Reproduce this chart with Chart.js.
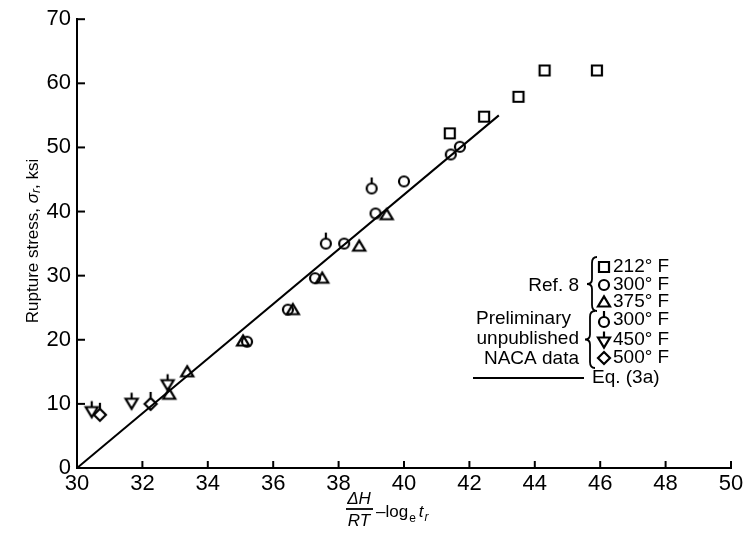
<!DOCTYPE html>
<html><head><meta charset="utf-8">
<script src="https://cdn.jsdelivr.net/npm/chart.js@4/dist/chart.umd.min.js"></script>
<style>html,body{margin:0;padding:0;background:#fff}#c{display:block}</style>
</head><body>
<div style="width:751px;height:534px"><canvas id="c" width="751" height="534"></canvas></div>
<script>
// ---- data ----
const xTicks = [30,32,34,36,38,40,42,44,46,48,50];
const yTicks = [0,10,20,30,40,50,60,70];

const ref8_212F_x = [41.4, 42.45, 43.5, 44.3, 45.9];
const ref8_212F_y = [52.2, 54.8, 57.9, 62.0, 62.0];

const ref8_300F_x = [35.2, 36.45, 37.28, 38.17, 39.13, 40.0, 41.43, 41.71];
const ref8_300F_y = [19.7, 24.7, 29.6, 35.0, 39.7, 44.7, 48.9, 50.1];

const ref8_375F_x = [32.82, 33.37, 35.08, 36.6, 37.5, 38.63, 39.47];
const ref8_375F_y = [11.5, 15.0, 19.8, 24.7, 29.6, 34.6, 39.5];

const naca_300F_x = [37.61, 39.01];
const naca_300F_y = [35.0, 43.6];

const naca_450F_x = [30.45, 31.67, 32.77];
const naca_450F_y = [8.8, 10.1, 13.0];

const naca_500F_x = [30.7, 32.25];
const naca_500F_y = [8.3, 10.0];

const eq3a_x = [30.0, 42.9];
const eq3a_y = [0.0, 55.0];

const legendTemps = ['212° F','300° F','375° F','300° F','450° F','500° F'];

// ---- helpers ----
const FONT = '"Liberation Sans", Arial, sans-serif';
const pts = (xs, ys) => xs.map((v,i)=>({x:v, y:ys[i]}));

function drawSym(g, kind, cx, cy, pip){
  g.save();
  g.strokeStyle='#000'; g.lineWidth=2.2; g.lineJoin='miter';
  g.beginPath();
  let top = cy-5;
  if(kind==='square'){ g.rect(cx-5,cy-5,10,10); top=cy-5; }
  else if(kind==='circle'){ g.arc(cx,cy,5,0,Math.PI*2); top=cy-5; }
  else if(kind==='tri'){ g.moveTo(cx-6,cy+4.5); g.lineTo(cx+6,cy+4.5); g.lineTo(cx,cy-5.5); g.closePath(); top=cy-5.5; }
  else if(kind==='tridown'){ g.moveTo(cx-6,cy-4.5); g.lineTo(cx+6,cy-4.5); g.lineTo(cx,cy+5.5); g.closePath(); top=cy-4.5; }
  else if(kind==='diamond'){ g.moveTo(cx,cy-6); g.lineTo(cx+6,cy); g.lineTo(cx,cy+6); g.lineTo(cx-6,cy); g.closePath(); top=cy-6; }
  g.stroke();
  if(pip){ g.beginPath(); g.moveTo(cx,top); g.lineTo(cx,top-6); g.stroke(); }
  g.restore();
}
function symCanvas(kind, pip){
  const c=document.createElement('canvas'); c.width=32; c.height=32;
  drawSym(c.getContext('2d'), kind, 16, 16, pip);
  return c;
}

function ds(label, xs, ys, kind, pip){
  return {type:'scatter', label, data: pts(xs,ys), pointStyle: symCanvas(kind,pip),
    pointRadius:6, pointHoverRadius:6, showLine:false};
}

const insideTicks = {
  id:'insideTicks',
  beforeDraw(chart){
    const g=chart.ctx; g.save(); g.fillStyle='#fff'; g.fillRect(0,0,chart.width,chart.height); g.restore();
  },
  afterDraw(chart){
    const g=chart.ctx, x=chart.scales.x, y=chart.scales.y;
    g.save(); g.strokeStyle='#000'; g.lineWidth=2;
    xTicks.forEach(v=>{ if(v===xTicks[0]) return; const p=x.getPixelForValue(v);
      g.beginPath(); g.moveTo(p,y.bottom); g.lineTo(p,y.bottom-7); g.stroke(); });
    yTicks.forEach(v=>{ if(v===yTicks[0]) return; const p=y.getPixelForValue(v);
      g.beginPath(); g.moveTo(x.left,p); g.lineTo(x.left+8,p); g.stroke(); });
    g.restore();

    // y title
    g.save(); g.fillStyle='#000'; g.textBaseline='middle';
    const f1='17px '+FONT, f2='italic 17px '+FONT, f3='italic 12px '+FONT;
    const parts=[['Rupture stress, ',f1,0],['σ',f2,0],['r',f3,4],[', ksi',f1,0]];
    let tw=0; parts.forEach(p=>{g.font=p[1]; tw+=g.measureText(p[0]).width;});
    g.translate(33,241); g.rotate(-Math.PI/2);
    let cx=-tw/2; parts.forEach(p=>{g.font=p[1]; g.fillText(p[0],cx,p[2]); cx+=g.measureText(p[0]).width;});
    g.restore();

    // x title
    g.save(); g.fillStyle='#000'; g.strokeStyle='#000'; g.textBaseline='alphabetic';
    g.font='italic 17px '+FONT; g.textAlign='center';
    g.fillText('ΔH',359,504);
    g.fillText('RT',359,526);
    g.lineWidth=1.8; g.beginPath(); g.moveTo(346,509); g.lineTo(373,509); g.stroke();
    g.textAlign='left';
    g.font='17px '+FONT; g.fillText('–log',376,517);
    let lx=376+g.measureText('–log').width;
    g.font='12px '+FONT; g.fillText('e',lx+1,522); lx+=g.measureText('e').width+4;
    g.font='italic 17px '+FONT; g.fillText('t',lx,517); lx+=g.measureText('t').width+1;
    g.font='italic 12px '+FONT; g.fillText('r',lx,521);
    g.restore();

    // legend
    g.save(); g.fillStyle='#000'; g.textBaseline='middle';
    const rows=[267,285,302,320,340,358];
    const kinds=[['square',false],['circle',false],['tri',false],['circle',true],['tridown',true],['diamond',false]];
    g.font='19px '+FONT;
    rows.forEach((ry,i)=>{ drawSym(g,kinds[i][0],604,ry+ (kinds[i][1]?2:0),kinds[i][1]); g.textAlign='left'; g.fillText(legendTemps[i],613,ry); });
    g.textAlign='right';
    g.fillText('Ref. 8',579,286);
    g.fillText('Preliminary',571,319);
    g.fillText('unpublished',579,339);
    g.fillText('NACA data',579,359);
    function brace(bx,y0,y1){
      const ym=(y0+y1)/2;
      g.beginPath(); g.lineWidth=1.8;
      g.moveTo(bx+6,y0); g.quadraticCurveTo(bx+1,y0,bx+1,y0+6); g.lineTo(bx+1,ym-5);
      g.quadraticCurveTo(bx+1,ym,bx-4,ym); g.quadraticCurveTo(bx+1,ym,bx+1,ym+5);
      g.lineTo(bx+1,y1-6); g.quadraticCurveTo(bx+1,y1,bx+6,y1); g.stroke();
    }
    brace(591,257,311);
    brace(589,311,368);
    g.lineWidth=2; g.beginPath(); g.moveTo(473,378); g.lineTo(584,378); g.stroke();
    g.textAlign='left'; g.font='19px '+FONT; g.fillText('Eq. (3a)',592,378);
    g.restore();
  }
};

new Chart(document.getElementById('c'), {
  type:'scatter',
  data:{ datasets:[
    {type:'line', label:'Eq. (3a)', data:pts(eq3a_x,eq3a_y), borderColor:'#000', borderWidth:2, pointRadius:0, fill:false},
    ds('Ref. 8 212° F', ref8_212F_x, ref8_212F_y, 'square', false),
    ds('Ref. 8 300° F', ref8_300F_x, ref8_300F_y, 'circle', false),
    ds('Ref. 8 375° F', ref8_375F_x, ref8_375F_y, 'tri', false),
    ds('NACA 300° F', naca_300F_x, naca_300F_y, 'circle', true),
    ds('NACA 450° F', naca_450F_x, naca_450F_y, 'tridown', true),
    ds('NACA 500° F', naca_500F_x, naca_500F_y, 'diamond', true)
  ]},
  options:{
    responsive:false, animation:false, devicePixelRatio:1,
    layout:{padding:{left:0,right:20,top:17,bottom:0}},
    plugins:{legend:{display:false}, tooltip:{enabled:false}},
    scales:{
      x:{type:'linear', min:30, max:50,
        afterBuildTicks:s=>{ s.ticks=xTicks.map(v=>({value:v})); },
        afterFit:s=>{ s.height=66; },
        grid:{display:true, drawOnChartArea:false, drawTicks:false},
        border:{display:true, color:'#000', width:2},
        ticks:{color:'#000', font:{size:22, family:FONT}, padding:3, maxRotation:0, autoSkip:false}
      },
      y:{type:'linear', min:0, max:70,
        afterBuildTicks:s=>{ s.ticks=yTicks.map(v=>({value:v})); },
        afterFit:s=>{ s.width=77; },
        grid:{display:true, drawOnChartArea:false, drawTicks:false},
        border:{display:true, color:'#000', width:2},
        ticks:{color:'#000', font:{size:22, family:FONT}, padding:6, autoSkip:false}
      }
    }
  },
  plugins:[insideTicks]
});
</script>
</body></html>
